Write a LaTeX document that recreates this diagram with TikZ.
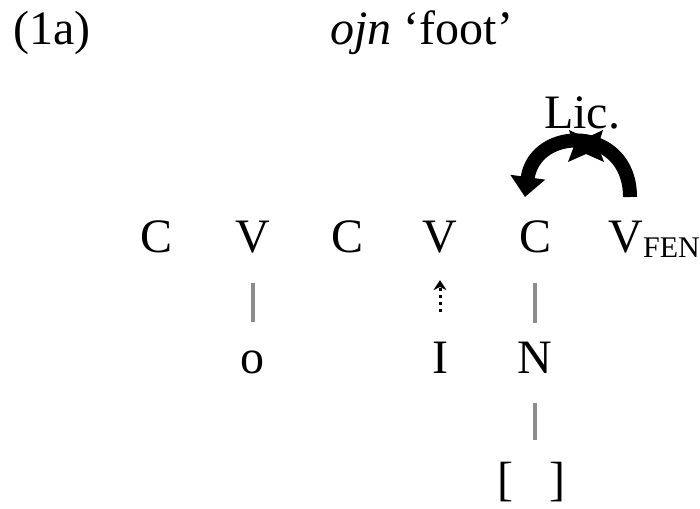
\documentclass[tikz,border=0pt]{standalone}
\usepackage{fontspec}
\setmainfont{Liberation Serif}
\usetikzlibrary{arrows.meta}

\begin{document}
\begin{tikzpicture}[x=0.5pt,y=-0.5pt,
  seg/.style={anchor=base,inner sep=0pt,font=\fontsize{24}{28}\selectfont},
  assoc/.style={draw=gray!90,line width=1.6pt},
  lic/.style={line width=7pt,-{Triangle[length=10pt,width=17pt]}}]
\useasboundingbox (0,0) rectangle (700,508);
% heading
\path node[seg,anchor=base west] (ex) at (13,45) {(1a)}
      node[seg,anchor=base west] (gloss) at (330,45) {\textit{ojn} ‘foot’};
% skeleton
\path node[seg] (c1) at (157,252) {C}
      node[seg] (v1) at (253,252) {V}
      node[seg] (c2) at (348,252) {C}
      node[seg] (v2) at (440,252) {V}
      node[seg] (c3) at (535,252) {C}
      node[seg,anchor=base west] (vfen) at (608,252) {V\raisebox{-2.5pt}{\fontsize{15}{18}\selectfont FEN}};
% melody
\path node[seg] (o) at (252,373) {o}
      node[seg] (i) at (440,373) {I}
      node[seg] (n) at (535,373) {N}
      node[seg] (el) at (531,495) {[\hspace{0.75em}]};
\draw[assoc,shorten <=15pt,shorten >=14pt] (v1.south) -- (v1.south |- o.north);
\draw[assoc,shorten <=15pt,shorten >=9pt] (c3.south) -- (n.north);
\draw[assoc,shorten <=15pt,shorten >=10.5pt] (n.south) -- (n.south |- el.north);
\draw[line width=1.5pt,dotted,-{Stealth[length=5pt,width=6.5pt]},shorten <=14.5pt,shorten >=13.5pt] (i.north) -- (v2.south);
% licensing
\coordinate (licR) at (630,197);
\coordinate (licL) at (525,197);
\path node[seg] (lictxt) at (582,128) {Lic.};
\draw[lic] (licR) .. controls (630,125) and (535,125) .. (licL);
\fill (569,130) -- (586,138) -- (603,130) -- (598,146) -- (604,162) -- (586,154) -- (568,162) -- (574,146) -- cycle;
\end{tikzpicture}
\end{document}
